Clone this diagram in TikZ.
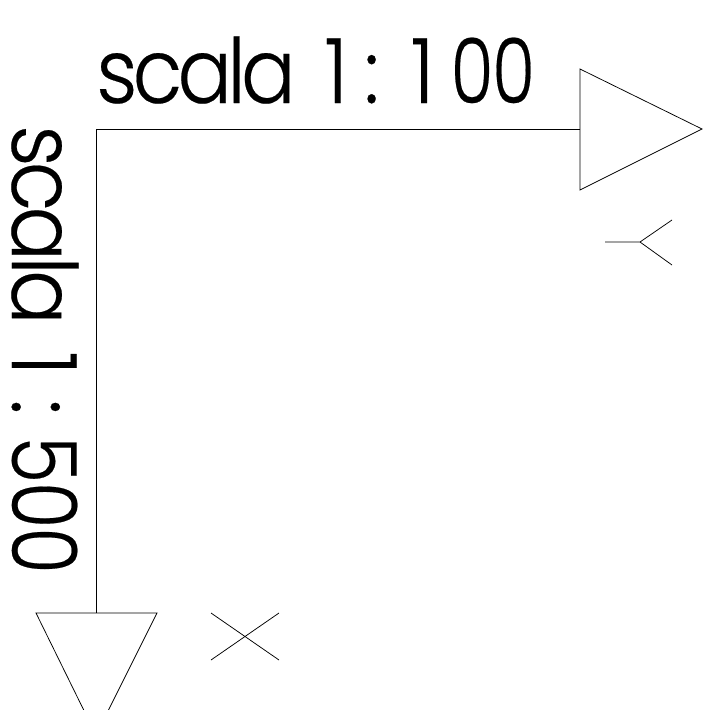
\documentclass[tikz,border=0pt]{standalone}
\usepackage{fontspec}
\setmainfont{Poppins Light}
\usetikzlibrary{positioning}
\newcommand{\scalaword}{{\addfontfeatures{LetterSpace=-6}scala}}
\newcommand{\scaladigits}[2][0.86]{\scalebox{#1}[1]{#2}}
\tikzset{
    thinline/.style={draw=black, line width=0.75pt},
    scalelabel/.style={inner sep=0pt, xscale=0.9, font=\fontsize{90}{90}\selectfont\addfontfeatures{LetterSpace=-2,FakeBold=0.25}}
}
\begin{document}
\begin{tikzpicture}[x=1pt, y=-1pt]
    \useasboundingbox (0, 0) rectangle (713, 710);
    \clip (0, 0) rectangle (713, 710);
    % Axes
    \coordinate (corner) at (96, 129);
    \coordinate (rightbase) at (580, 129);
    \coordinate (downbase) at (96, 613);
    \draw[thinline] (rightbase) -- (corner) -- (downbase);

    % Arrow heads
    \coordinate (righttop) at (580, 69);
    \coordinate (rightbot) at (580, 190);
    \coordinate (righttip) at (702, 129);
    \draw[thinline] (righttop) -- (righttip) -- (rightbot) -- cycle;
    \coordinate (downleft) at (36, 613);
    \coordinate (downright) at (157, 613);
    \coordinate (downtip) at (96, 735);
    \draw[thinline] (downleft) -- (downtip) -- (downright) -- cycle;

    % Small marks
    \coordinate (forkstart) at (605, 242);
    \coordinate (forkmid) at (640, 242);
    \coordinate (forktop) at (672, 220);
    \coordinate (forkbot) at (672, 265);
    \draw[thinline] (forkstart) -- (forkmid) -- (forktop);
    \draw[thinline] (forkmid) -- (forkbot);
    \coordinate (crossa) at (211, 613);
    \coordinate (crossb) at (279, 660);
    \coordinate (crossc) at (279, 613);
    \coordinate (crossd) at (211, 660);
    \draw[thinline] (crossa) -- (crossb);
    \draw[thinline] (crossc) -- (crossd);

    % Labels
    \node[scalelabel, anchor=base west] (labeltop) at (96, 103) {\scalaword{}\hspace{32pt}1\hspace{18pt}:\hspace{35pt}1\hspace{18pt}\scaladigits{00}};
    \node[rotate=-90, scalelabel, anchor=base west] (labelleft) at (12, 125) {\scalaword{}\hspace{30pt}1\hspace{27pt}:\hspace{24pt}\scaladigits[0.94]{500}};
\end{tikzpicture}
\end{document}
